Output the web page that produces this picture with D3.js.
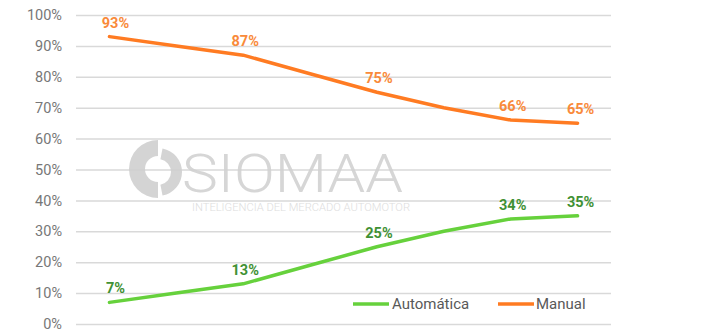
<!DOCTYPE html>
<html><head><meta charset="utf-8">
<script src="https://cdn.jsdelivr.net/npm/d3@7"></script>
<style>body{margin:0;background:#fff;}svg{display:block;font-family:Roboto,"Noto Sans",sans-serif;}</style>
</head><body>
<svg id="c" width="702" height="336"></svg>
<script>
const categories = ["2015","2016","2017","2018","2019","2020","2021","2022"];
const automatica = [7, 10, 13, 19, 25, 30, 34, 35];
const manual = [93, 90, 87, 81, 75, 70, 66, 65];
const labelIdx = [0, 2, 4, 6, 7];
const yTicks = [0,10,20,30,40,50,60,70,80,90,100];
const seriesNames = ["Automática", "Manual"];

(function(){
const svg = d3.select("#c");
const mLeft = 76, mRight = 611, mTop = 15, mBottom = 324;
const x = d3.scaleBand().domain(categories).range([mLeft, mRight]);
const y = d3.scaleLinear().domain([0, 100]).range([mBottom, mTop]);
const cx = d => x(d) + x.bandwidth() / 2;

// gridlines + y labels
const yAxis = d3.axisLeft(y).tickValues(yTicks).tickSize(-(mRight - mLeft)).tickFormat(d => d + "%");
const ga = svg.append("g").attr("transform", `translate(${mLeft},0)`).call(yAxis);
ga.select(".domain").remove();
ga.selectAll(".tick line").attr("stroke", "#d9d9d9").attr("stroke-width", 1.5);
ga.selectAll(".tick text").attr("x", -14).attr("fill", "#777").attr("font-size", "14.5px").style("font-family", "Roboto, sans-serif");

// watermark
const wm = svg.append("g").attr("opacity", 0.9);
wm.append("path").attr("transform", "translate(158,169)")
  .attr("d", d3.arc().innerRadius(13).outerRadius(29)({startAngle: Math.PI, endAngle: 2 * Math.PI})).attr("fill", "#d0d0d0");
wm.append("path").attr("transform", "translate(158,172)")
  .attr("d", d3.arc().innerRadius(13).outerRadius(24)({startAngle: 0.06 * Math.PI, endAngle: 0.94 * Math.PI})).attr("fill", "#d0d0d0");
wm.append("text").attr("x", 182).attr("y", 192).attr("font-size", "54px").attr("font-weight", 300)
  .attr("fill", "#d2d2d2").attr("textLength", 221).attr("lengthAdjust", "spacingAndGlyphs").text("SIOMAA");
wm.append("text").attr("x", 192).attr("y", 210.5).attr("font-size", "11px").attr("font-weight", 300)
  .attr("fill", "#dadada").attr("textLength", 218).attr("lengthAdjust", "spacingAndGlyphs").text("INTELIGENCIA DEL MERCADO AUTOMOTOR");

const line = d3.line().x((d, i) => cx(categories[i])).y(d => y(d));
const series = [
  {name: seriesNames[0], values: automatica, color: "#66d13c", label: "#3f9134"},
  {name: seriesNames[1], values: manual, color: "#ff7b22", label: "#f98a3a"}
];
series.forEach(s => {
  svg.append("path").attr("d", line(s.values)).attr("fill", "none").attr("stroke", s.color)
    .attr("stroke-width", 3.5).attr("stroke-linejoin", "round").attr("stroke-linecap", "round");
  svg.append("g").selectAll("text").data(labelIdx).join("text")
    .attr("x", i => cx(categories[i]) + (i === 0 ? 6 : i === 7 ? 3 : 2))
    .attr("y", i => y(s.values[i]) - 9)
    .attr("text-anchor", "middle").attr("font-size", "14.5px").attr("font-weight", 700)
    .attr("fill", s.label).text(i => s.values[i] + "%");
});

// legend
const lg = svg.append("g");
const legendPos = [{x: 353, tx: 392}, {x: 498, tx: 536}];
series.forEach((s, i) => {
  lg.append("line").attr("x1", legendPos[i].x).attr("x2", legendPos[i].x + 36).attr("y1", 304).attr("y2", 304)
    .attr("stroke", s.color).attr("stroke-width", 3.5);
  lg.append("text").attr("x", legendPos[i].tx).attr("y", 309).attr("font-size", "15px")
    .attr("fill", "#595959").text(s.name);
});
})();
</script>
</body></html>
